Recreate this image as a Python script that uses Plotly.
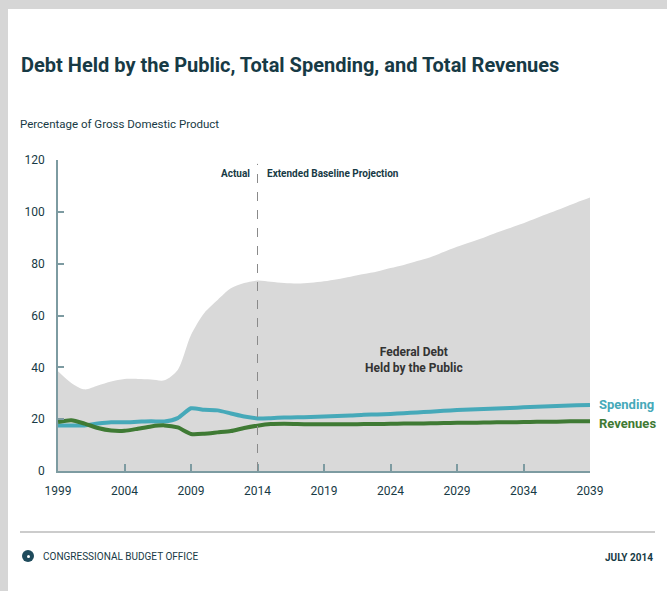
import plotly.graph_objects as go

# ---- data (percentage of GDP) ----
years = list(range(1999, 2040))
debt = [38.5, 34.0, 31.5, 33.0, 34.5, 35.5, 35.5, 35.3, 35.0, 39.0,
        52.5, 61.0, 66.0, 70.5, 72.5, 73.5, 73.0, 72.5, 72.3, 72.6,
        73.2, 74.0, 75.0, 76.0, 77.0, 78.3, 79.5, 81.0, 82.5, 84.5,
        86.5, 88.3, 90.0, 92.0, 93.8, 95.6, 97.6, 99.6, 101.6, 103.6, 105.5]
spending = [17.6, 17.6, 17.6, 18.3, 18.8, 18.8, 19.0, 19.2, 19.1, 20.4,
            24.2, 23.6, 23.4, 22.2, 21.0, 20.3, 20.4, 20.6, 20.7, 20.8,
            21.0, 21.2, 21.4, 21.7, 21.8, 22.0, 22.3, 22.6, 22.9, 23.2,
            23.5, 23.7, 23.9, 24.1, 24.3, 24.6, 24.8, 25.0, 25.2, 25.4, 25.5]
revenues = [18.9, 19.6, 18.3, 16.6, 15.6, 15.5, 16.3, 17.2, 17.6, 16.8,
            14.3, 14.4, 14.9, 15.4, 16.6, 17.5, 18.1, 18.2, 18.1, 18.0,
            18.0, 18.0, 18.0, 18.1, 18.1, 18.2, 18.3, 18.3, 18.4, 18.5,
            18.6, 18.6, 18.7, 18.8, 18.8, 18.9, 19.0, 19.0, 19.1, 19.2, 19.2]
x_ticks = [1999, 2004, 2009, 2014, 2019, 2024, 2029, 2034, 2039]
y_ticks = [0, 20, 40, 60, 80, 100, 120]
split_year = 2014

W, H = 667, 591
L, R, T, B = 58, 77, 160, 120
PW, PH = W - L - R, H - T - B

def px(x):
    return (x - L) / PW

def py(y):
    return (H - B - y) / PH

FONT = "Roboto, Liberation Sans, sans-serif"
DARK = "#173a45"
AXIS = "#7d9ba1"
TEAL = "#46a9b9"
GREEN = "#3f7a34"

fig = go.Figure()
fig.add_trace(go.Scatter(x=years, y=debt, mode="lines", fill="tozeroy",
                         line=dict(color="#d9d9d9", width=0, shape="spline", smoothing=0.8),
                         fillcolor="#d9d9d9", hoverinfo="skip", showlegend=False))
fig.add_trace(go.Scatter(x=years, y=spending, mode="lines",
                         line=dict(color=TEAL, width=4, shape="spline", smoothing=0.6),
                         showlegend=False))
fig.add_trace(go.Scatter(x=years, y=revenues, mode="lines",
                         line=dict(color=GREEN, width=4, shape="spline", smoothing=0.6),
                         showlegend=False))

shapes = [
    # white card inside grey border strips
    dict(type="rect", xref="paper", yref="paper", x0=px(8), x1=px(W + 5), y0=py(H + 5), y1=py(9),
         fillcolor="white", line=dict(width=0), layer="below"),
    # dashed divider
    dict(type="line", xref="x", yref="y", x0=split_year, x1=split_year, y0=0, y1=118.5,
         line=dict(color="#8a8a8a", width=1, dash="dash")),
    # footer rule
    dict(type="line", xref="paper", yref="paper", x0=px(20), x1=px(655), y0=py(532), y1=py(532),
         line=dict(color="#cccccc", width=2)),
    # logo
    dict(type="circle", xref="paper", yref="paper", x0=px(22), x1=px(34), y0=py(562), y1=py(550),
         fillcolor="#1f4b5c", line=dict(width=0)),
    dict(type="circle", xref="paper", yref="paper", x0=px(27), x1=px(30), y0=py(558), y1=py(555),
         fillcolor="white", line=dict(width=0)),
]

annotations = [
    dict(text="<b>Debt Held by the Public, Total Spending, and Total Revenues</b>",
         x=px(19), y=py(65), xanchor="left", yanchor="middle",
         font=dict(family=FONT, size=20, color=DARK)),
    dict(text="Percentage of Gross Domestic Product", x=px(18), y=py(124),
         xanchor="left", yanchor="middle", font=dict(family=FONT, size=11.5, color=DARK)),
    dict(text="<b>Actual</b>", x=px(252), y=py(173), xanchor="right", yanchor="middle",
         font=dict(family=FONT, size=10, color=DARK)),
    dict(text="<b>Extended Baseline Projection</b>", x=px(265), y=py(173), xanchor="left",
         yanchor="middle", font=dict(family=FONT, size=10, color=DARK)),
    dict(text="<b>Federal Debt<br>Held by the Public</b>", x=px(414), y=py(360),
         xanchor="center", yanchor="middle", font=dict(family=FONT, size=12, color="#333333")),
    dict(text="<b>Spending</b>", x=px(597), y=py(404), xanchor="left", yanchor="middle",
         font=dict(family=FONT, size=13, color=TEAL)),
    dict(text="<b>Revenues</b>", x=px(597), y=py(423), xanchor="left", yanchor="middle",
         font=dict(family=FONT, size=13, color=GREEN)),
    dict(text="CONGRESSIONAL BUDGET OFFICE", x=px(41), y=py(556), xanchor="left",
         yanchor="middle", font=dict(family=FONT, size=10, color=DARK)),
    dict(text="<b>JULY 2014</b>", x=px(655), y=py(557), xanchor="right", yanchor="middle",
         font=dict(family=FONT, size=10, color=DARK)),
]
for a in annotations:
    a.update(xref="paper", yref="paper", showarrow=False)

fig.update_layout(
    width=W, height=H,
    margin=dict(l=L, r=R, t=T, b=B, pad=0),
    paper_bgcolor="#d6d6d6", plot_bgcolor="rgba(0,0,0,0)",
    shapes=shapes, annotations=annotations,
    xaxis=dict(range=[1999, 2039], tickvals=x_ticks, ticktext=[str(v) for v in x_ticks],
               showgrid=False, zeroline=False, showline=True, linecolor=AXIS, linewidth=1.5,
               ticks="inside", ticklen=7, tickcolor=AXIS, tickwidth=1.5, ticklabelstandoff=8,
               tickfont=dict(family=FONT, size=12, color=DARK)),
    yaxis=dict(range=[0, 120], tickvals=y_ticks, showgrid=False, zeroline=False,
               showline=True, linecolor=AXIS, linewidth=1.5,
               ticks="inside", ticklen=6, tickcolor=AXIS, tickwidth=1.5, ticklabelstandoff=9,
               tickfont=dict(family=FONT, size=12, color=DARK)),
    hovermode=False,
)

fig.write_html("out.html", config={"displayModeBar": False},
               post_script="document.body.style.margin='0px';"
                           "document.body.style.background='#d6d6d6';")
